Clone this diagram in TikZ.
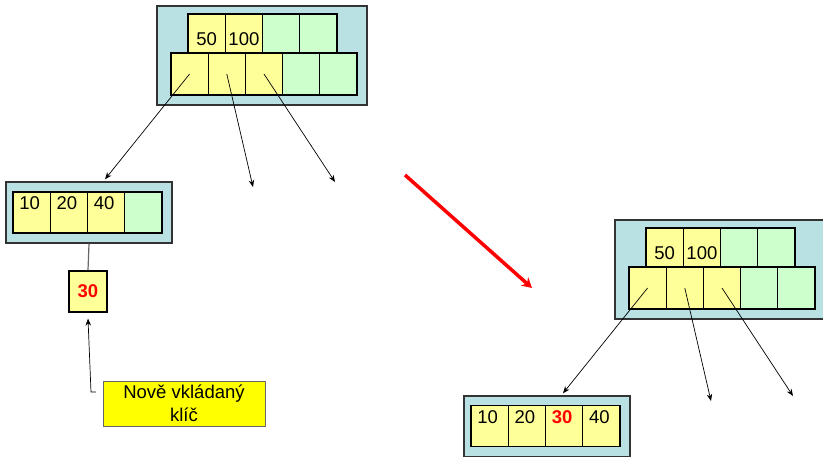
\documentclass[tikz,border=0pt]{standalone}
\usepackage{fontspec}
\setmainfont{Liberation Sans}
\usepackage{xcolor}
\usepackage{tikz}
\usetikzlibrary{arrows.meta,positioning}
\definecolor{uzelmodra}{HTML}{B9E0E2}
\definecolor{kliczluta}{HTML}{FFFF99}
\definecolor{volnazelena}{HTML}{CCFFCC}
\definecolor{popiszluta}{HTML}{FFFF00}

\begin{document}
\begin{tikzpicture}[>={Stealth[length=7pt,width=5.5pt]}, x=1pt, y=-1pt,
	font=\fontsize{18.5}{22.5}\selectfont,
	obal/.style={rectangle,draw=black!80,line width=1.4pt,fill=uzelmodra,inner sep=0pt},
	bunka/.style={rectangle,draw,line width=1.2pt,inner sep=0pt,minimum width=37.2pt}] % vkladani klice do B-stromu
	\useasboundingbox (0,0) rectangle (823,456);
	
	\foreach \s/\dx/\dy in {a/0/0,b/458/214}{
		\node[obal,minimum width=210pt,minimum height=99pt] 
		(u\s) at (262+\dx,55.5+\dy){};
		\foreach \i/\name/\barva in {1/50/kliczluta,2/100/kliczluta,3//volnazelena,4//volnazelena}{
			\node[bunka,fill=\barva,minimum height=39pt,label={[yshift=-6pt]center:\name}] 
			(k\s\i) at (169.4+37.25*\i+\dx,33.5+\dy){};
		}
		\foreach \i/\barva in {1/kliczluta,2/kliczluta,3/kliczluta,4/volnazelena,5/volnazelena}{
			\node[bunka,fill=\barva,minimum height=42pt] 
			(p\s\i) at (152.4+37.2*\i+\dx,74+\dy){};
		}
		\node[obal,minimum width=166pt,minimum height=61pt] 
		(l\s) at (89+\dx,212.5+\dy){};
		\coordinate (c\s2) at (253+\dx,187+\dy);
		\coordinate (c\s3) at (335+\dx,182+\dy);
		
		\draw[->,line width=0.7pt] (p\s1.center) -- ([xshift=16pt,yshift=2pt]l\s.north);
		\draw[->,line width=0.7pt] (p\s2.center) -- (c\s2);
		\draw[->,line width=0.7pt] (p\s3.center) -- (c\s3);
	}
	
	\foreach \i/\name/\barva in {1/10/kliczluta,2/20/kliczluta,3/40/kliczluta,4//volnazelena}{
		\node[bunka,fill=\barva,minimum height=41pt,label={[xshift=-2pt,yshift=9pt]center:\name}] 
		(ma\i) at (-5.6+37.25*\i,212.5){};
	}
	\foreach \i/\name in {1/10,2/20,3/{\textcolor{red}{\bfseries 30}},4/40}{
		\node[bunka,fill=kliczluta,minimum height=41pt,label={[xshift=-2pt,yshift=9pt]center:\name}] 
		(mb\i) at (452.4+37.25*\i,426){};
	}
	
	\node[bunka,fill=kliczluta,minimum width=38pt,minimum height=41pt,text=red,font=\fontsize{18.5}{22.5}\selectfont\bfseries] 
	(novy) at (88,291.5){30};
	\draw[color=black!60,line width=1.2pt] (la.south) -- (novy.north);
	
	\node[rectangle,draw=black!60,line width=0.8pt,fill=popiszluta,minimum width=162pt,minimum height=45pt,align=center] 
	(popis) at (184,403.5){Nově vkládaný\\klíč};
	\coordinate (odkaz) at (96,392);
	\coordinate (zlom) at (91,392);
	\draw[->,line width=0.7pt] (odkaz) -- (zlom) -- ([yshift=-6pt]novy.south);
	
	\coordinate (s0) at (405,175);
	\coordinate (s1) at (532,288);
	\draw[-{Stealth[length=10pt,width=11pt]},color=red,line width=3.5pt] (s0) -- (s1); % prechod
\end{tikzpicture}
\end{document}
